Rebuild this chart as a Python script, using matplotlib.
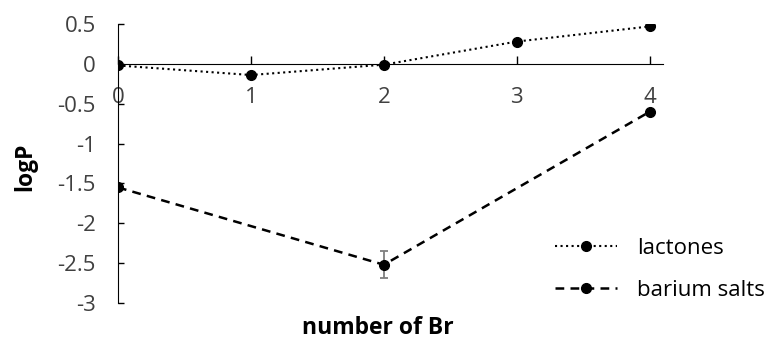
import matplotlib.pyplot as plt
from matplotlib.lines import Line2D

plt.rcParams['font.family'] = ['Open Sans', 'DejaVu Sans']

# data
n_br = [0, 1, 2, 3, 4]
lactones = [-0.02, -0.14, -0.01, 0.28, 0.47]

n_br_ba = [0, 2, 4]
barium = [-1.55, -2.52, -0.60]
barium_err = [0, 0.17, 0]

dash = (0, (3.5, 2.5))

fig = plt.figure(figsize=(7.71, 3.43), dpi=100)
ax = fig.add_axes([0.153, 0.1166, 0.707, 0.8134])

ax.plot(n_br, lactones, color='black', linestyle=':', linewidth=1.5,
        marker='o', markersize=7)
ax.errorbar(n_br_ba, barium, yerr=barium_err, color='black', linestyle=dash,
            linewidth=1.8, marker='o', markersize=7, ecolor='#7f7f7f',
            elinewidth=1.3, capsize=3, capthick=1.3)

ax.set_xlim(0, 4.1)
ax.set_ylim(-3, 0.5)
ax.set_xticks(n_br)
ax.set_yticks([0.5, 0, -0.5, -1, -1.5, -2, -2.5, -3])
ax.set_yticklabels(['0.5', '0', '-0.5', '-1', '-1.5', '-2', '-2.5', '-3'])

ax.spines['top'].set_visible(False)
ax.spines['right'].set_visible(False)
ax.spines['bottom'].set_position(('data', 0))

ax.tick_params(axis='both', direction='in', width=1, labelsize=16,
               labelcolor='#404040')
ax.tick_params(axis='y', length=4, pad=16)
ax.tick_params(axis='x', length=6, pad=17)

fig.text(25 / 771, 0.513, 'logP', fontsize=16.5, fontweight='bold',
         rotation=90, ha='center', va='center')
fig.text(378 / 771, 0.045, 'number of Br', fontsize=16.5, fontweight='bold',
         ha='center', va='center')

handles = [
    Line2D([], [], color='black', linestyle=':', linewidth=1.5, marker='o', markersize=7),
    Line2D([], [], color='black', linestyle=dash, linewidth=1.8, marker='o', markersize=7),
]
fig.legend(handles, ['lactones', 'barium salts'], loc='center left',
           bbox_to_anchor=(555 / 771, 0.215), frameon=False, fontsize=16,
           handlelength=2.8, handletextpad=0.9, labelspacing=0.95,
           borderpad=0, borderaxespad=0, numpoints=1)

fig.savefig('out.png', dpi=100)
